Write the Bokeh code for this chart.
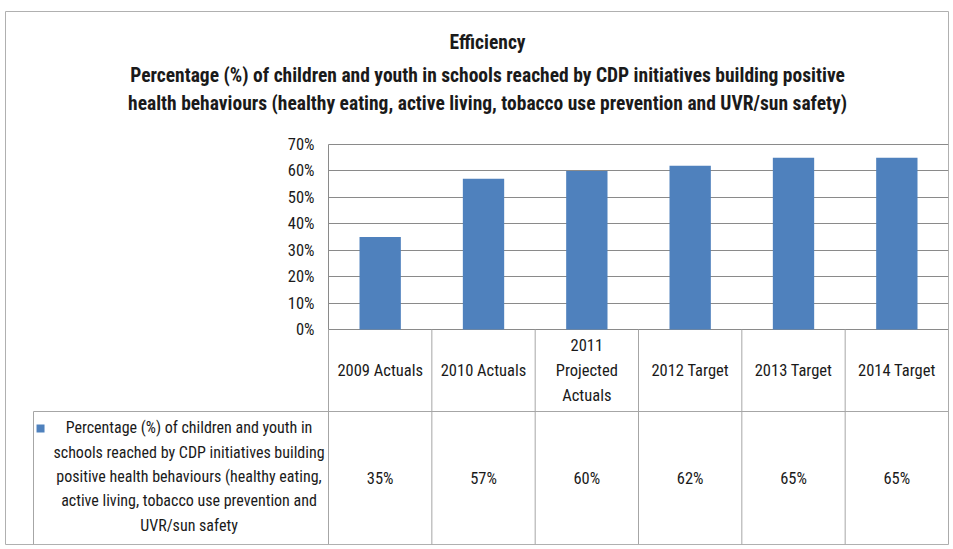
from bokeh.plotting import figure
from bokeh.models import Range1d, LinearAxis, FixedTicker, NumeralTickFormatter, Grid, Label, ColumnDataSource
from bokeh.core.properties import value
from bokeh.embed import file_html
from bokeh.resources import INLINE

# ---------------- data ----------------
chart_title = "Efficiency"
chart_subtitle = ("Percentage (%) of children and youth in schools reached by CDP initiatives building positive\n"
                  "health behaviours (healthy eating, active living, tobacco use prevention and UVR/sun safety)")
categories = ["2009 Actuals", "2010 Actuals", "2011\nProjected\nActuals",
              "2012 Target", "2013 Target", "2014 Target"]
values = [0.35, 0.57, 0.60, 0.62, 0.65, 0.65]
series_name = ("Percentage (%) of children and youth in\n"
               "schools reached by CDP initiatives building\n"
               "positive health behaviours (healthy eating,\n"
               "active living, tobacco use prevention and\n"
               "UVR/sun safety")
y_ticks = [0.0, 0.1, 0.2, 0.3, 0.4, 0.5, 0.6, 0.7]

# ---------------- style ----------------
FONT = "Roboto Condensed"
FS = "16.5px"
BAR = "#4F81BD"
GRID = "#8a8a8a"
TABLE = "#a6a6a6"
TEXT = "#1a1a1a"

n = len(categories)
x_cent = [i + 0.5 for i in range(n)]
val_text = ["%d%%" % round(v * 100) for v in values]

# layout constants (data units)
X_START, X_END = -3.126, float(n)
Y_START, Y_END = -0.8135, 1.2032
HEAD_BOTTOM = -0.3103
LEG_LEFT = -2.855

p = figure(width=951, height=547, x_range=Range1d(X_START, X_END), y_range=Range1d(Y_START, Y_END),
           output_backend="svg", toolbar_location=None, x_axis_type=None, y_axis_type=None,
           min_border_left=5, min_border_right=3, min_border_bottom=3, min_border_top=11,
           outline_line_color="#b0b0b0", outline_line_width=1,
           background_fill_color="white", border_fill_color="white")

grid = Grid(dimension=1, ticker=FixedTicker(ticks=y_ticks), bounds=(min(y_ticks), max(y_ticks)),
            grid_line_color=GRID, grid_line_width=1)
try:
    grid.cross_bounds = (0, n)
except Exception:
    pass
p.add_layout(grid, "center")

yaxis = LinearAxis(ticker=FixedTicker(ticks=y_ticks), formatter=NumeralTickFormatter(format="0%"),
                   bounds=(min(y_ticks), max(y_ticks)), fixed_location=0,
                   axis_line_color=GRID, major_tick_in=0, major_tick_out=0, minor_tick_line_color=None,
                   major_label_standoff=14, major_label_text_font=FONT,
                   major_label_text_font_size=FS, major_label_text_color=TEXT)
p.add_layout(yaxis, "left")

src = ColumnDataSource(dict(x=x_cent, top=values, cat=categories, lab=val_text))
p.vbar(x="x", top="top", bottom=0, width=0.4, source=src, fill_color=BAR, line_color=None)

p.segment(x0=list(range(n + 1)), y0=[0] * (n + 1), x1=list(range(n + 1)), y1=[Y_START] * (n + 1),
          line_color=TABLE, line_width=1)
p.segment(x0=[LEG_LEFT, LEG_LEFT], y0=[HEAD_BOTTOM, HEAD_BOTTOM], x1=[X_END, LEG_LEFT], y1=[HEAD_BOTTOM, Y_START],
          line_color=TABLE, line_width=1)

p.text(x="x", y=HEAD_BOTTOM / 2, text="cat", source=src, text_align="center", text_baseline="middle",
       text_font=value(FONT), text_font_size=FS, text_line_height=1.3, text_color=TEXT)
p.text(x="x", y=-0.562, text="lab", source=src, text_align="center", text_baseline="middle",
       text_font=value(FONT), text_font_size=FS, text_color=TEXT)

p.scatter(x=[-2.787], y=[-0.3746], marker="square", size=8, fill_color=BAR, line_color=None)
p.text(x=[-1.35], y=[-0.556], text=[series_name], text_align="center",
       text_baseline="middle", text_font=value(FONT), text_font_size="16px", text_line_height=1.28,
       text_color=TEXT)

p.add_layout(Label(x=1.539, y=1.085, text=chart_title, text_align="center", text_baseline="middle",
                   text_font=FONT, text_font_size="19.5px", text_font_style="bold", text_color=TEXT))
p.add_layout(Label(x=1.539, y=0.908, text=chart_subtitle, text_align="center", text_baseline="middle",
                   text_font=FONT, text_font_size="19.5px", text_font_style="bold", text_color=TEXT,
                   text_line_height=1.23))

open("out.html", "w").write(file_html(p, INLINE))
